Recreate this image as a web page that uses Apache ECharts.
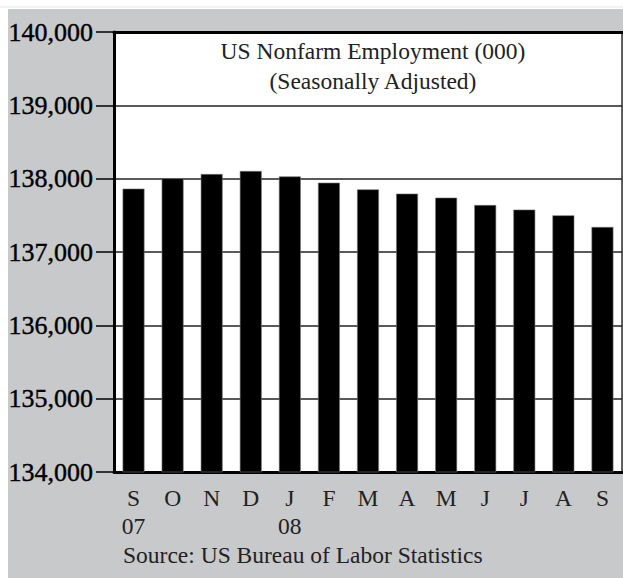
<!DOCTYPE html>
<html>
<head>
<meta charset="utf-8">
<script src="https://cdn.jsdelivr.net/npm/echarts@6/dist/echarts.min.js"></script>
<style>
html,body{margin:0;padding:0;background:#fff;}
#chart{width:623px;height:578px;}
</style>
</head>
<body>
<div id="chart"></div>
<script>
const months = ['S','O','N','D','J','F','M','A','M','J','J','A','S'];
const years = ['07','','','','08','','','','','','','',''];
const employment = [137864, 138004, 138063, 138104, 138031, 137945, 137854, 137796, 137741, 137640, 137578, 137500, 137341];
const yTicks = [134000, 135000, 136000, 137000, 138000, 139000, 140000];
const titleLines = ['US Nonfarm Employment (000)', '(Seasonally Adjusted)'];
const sourceText = 'Source: US Bureau of Labor Statistics';

const FONT = 'Liberation Serif';
const chart = echarts.init(document.getElementById('chart'), null, {renderer: 'svg'});
chart.setOption({
  backgroundColor: '#c8c9cb',
  animation: false,
  textStyle: {fontFamily: FONT},
  title: {
    text: titleLines.join('\n'),
    left: 368, top: 31, textAlign: 'center',
    textStyle: {fontFamily: FONT, fontSize: 23.5, fontWeight: 'normal', color: '#222', lineHeight: 30}
  },
  graphic: [
    {type: 'rect', shape: {x: 0, y: 0, width: 623, height: 9}, style: {fill: '#fff'}, silent: true},
    {type: 'rect', shape: {x: 0, y: 0, width: 8, height: 578}, style: {fill: '#fff'}, silent: true},
    {type: 'line', shape: {x1: 0, y1: 7, x2: 623, y2: 7}, style: {stroke: '#e4e4e4', lineWidth: 1}, silent: true},
    {type: 'text', left: 123, top: 543, style: {text: sourceText, font: "23.5px 'Liberation Serif', serif", fill: '#222'}}
  ],
  grid: {left: 114, right: 1, top: 32, bottom: 106, show: true, backgroundColor: '#fff', borderColor: '#333', borderWidth: 1.5},
  xAxis: [{
    type: 'category',
    data: months,
    position: 'bottom',
    axisLine: {show: true, lineStyle: {color: '#000', width: 3}},
    axisTick: {show: false},
    axisLabel: {
      margin: 12, fontSize: 23.5, lineHeight: 28, color: '#222', fontFamily: FONT, interval: 0,
      formatter: (v, i) => years[i] ? v + '\n' + years[i] : v
    }
  }, {
    type: 'category',
    data: months,
    position: 'top',
    axisLine: {show: true, lineStyle: {color: '#000', width: 3}},
    axisTick: {show: false},
    axisLabel: {show: false}
  }],
  yAxis: {
    type: 'value',
    min: yTicks[0], max: yTicks[yTicks.length - 1], interval: 1000,
    axisLine: {show: true, lineStyle: {color: '#000', width: 3}},
    axisTick: {show: true, inside: false, length: 18, lineStyle: {color: '#000', width: 1.5}},
    axisLabel: {
      margin: 21, fontSize: 26, color: '#000', fontFamily: FONT,
      textBorderColor: '#000', textBorderWidth: 0.4,
      formatter: v => v.toLocaleString('en-US')
    },
    splitLine: {show: true, lineStyle: {color: '#222', width: 1.5}}
  },
  series: [{
    type: 'bar',
    data: employment,
    barWidth: '56%',
    itemStyle: {color: '#000', borderColor: '#777', borderWidth: 0.6}
  }]
});
</script>
</body>
</html>
